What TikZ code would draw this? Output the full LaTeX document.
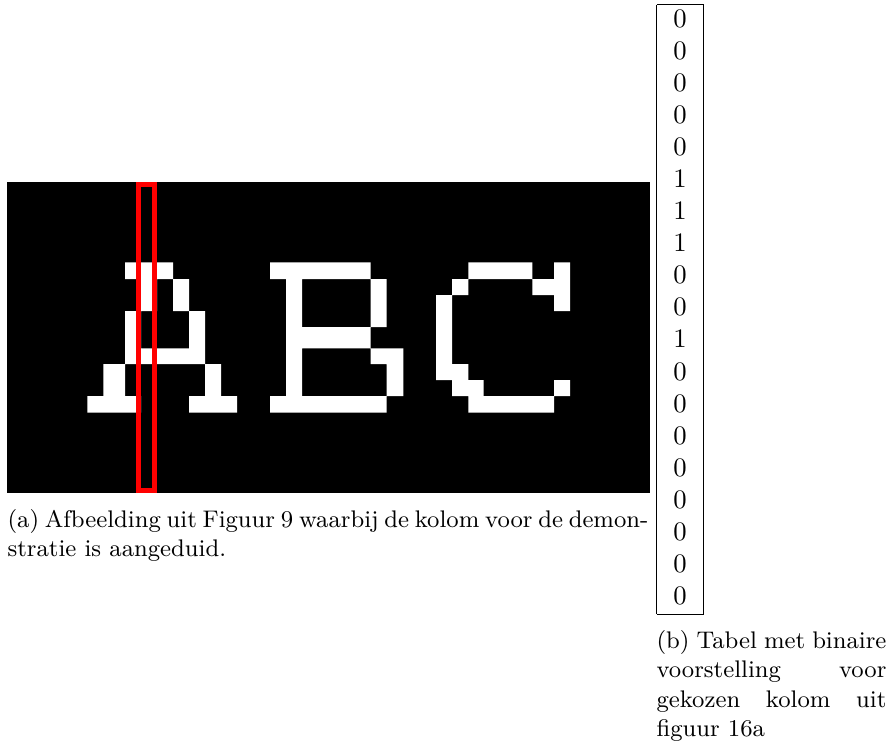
\documentclass[tikz,border=0pt]{standalone}
\usepackage{tikz}
\definecolor{kolomrood}{HTML}{FF0000}
\tikzset{onderschrift/.style={font=\small,align=justify,inner sep=0pt,anchor=north west,
  execute at begin node={\hyphenpenalty=10000 }}}
\newcommand{\beeld}{%
  \fill[black] (7,181.7) rectangle (650,492.7);
}
\newcommand{\letterA}{%
  \fill[white] (125,262.3) rectangle (173,279) (141,279) rectangle (157,311)
    (173,279) rectangle (189,311) (125,311) rectangle (141,348.3)
    (189,311) rectangle (205,348.3) (125,348.3) rectangle (205,364)
    (103.3,364) rectangle (125,396) (205,364) rectangle (221,396)
    (87.3,396) rectangle (141,412.7) (189,396) rectangle (237,412.7);
}
\newcommand{\letterB}{%
  \fill[white] (270,262.3) rectangle (370.7,279) (286,279) rectangle (302,396)
    (370.7,279) rectangle (386.7,327) (302,327) rectangle (370.7,348.3)
    (370.7,348.3) rectangle (403.3,364) (386.7,364) rectangle (403.3,396)
    (270,396) rectangle (386.7,412.7);
}
\newcommand{\letterC}{%
  \fill[white] (468.3,262.3) rectangle (532.3,279) (554,262.3) rectangle (570,311)
    (532.3,279) rectangle (554,295) (452,279) rectangle (468.3,295)
    (436,295) rectangle (452,380) (452,364) rectangle (468.3,380)
    (452,380) rectangle (483.7,396) (468.3,396) rectangle (554,412.7)
    (554,380) rectangle (570,396);
}
\newcommand{\kolomkader}{%
  \draw[kolomrood,line width=1.9pt] (138.5,184.5) rectangle (154.5,490.2);
}

\begin{document}
\begin{tikzpicture}[x=0.3745pt,y=-0.3745pt]
\useasboundingbox (0,0) rectangle (889,742);
\beeld \letterA \letterB \letterC \kolomkader
\node (kolomtabel) [inner sep=0pt,anchor=north west] at (656,3.5)
  {\setlength{\tabcolsep}{6.3pt}\begin{tabular}{|c|}\hline
   0\\0\\0\\0\\0\\1\\1\\1\\0\\0\\1\\0\\0\\0\\0\\0\\0\\0\\0\\\hline
   \end{tabular}};
\node (onderschrifta) [onderschrift,text width=240pt] at (7,508.5)
  {(a) Afbeelding uit Figuur 9 waarbij de kolom voor de demon-\linebreak stratie is aangeduid.};
\node (onderschriftb) [onderschrift,text width=86.1pt] at (656,630)
  {(b)~Tabel~met~binaire\linebreak voorstelling~voor\linebreak gekozen~kolom~uit\linebreak figuur~16a};
\end{tikzpicture}
\end{document}
